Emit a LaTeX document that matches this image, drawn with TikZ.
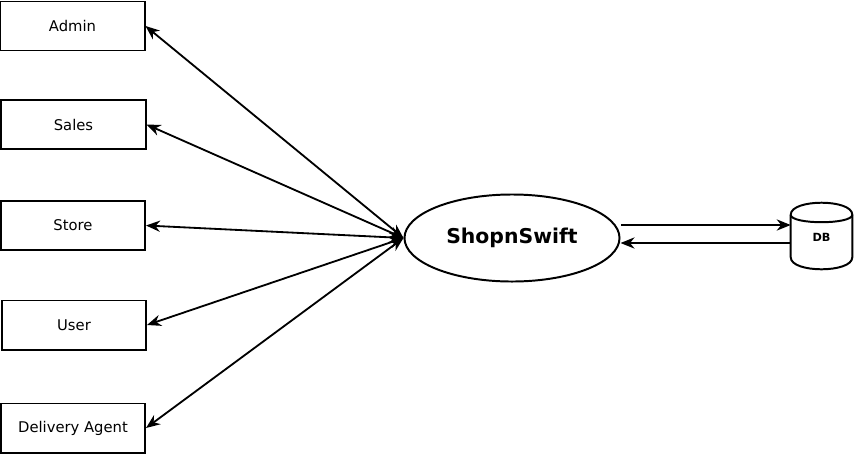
\documentclass[tikz,border=0pt]{standalone}
\usepackage{fontspec}
\setmainfont{DejaVu Sans}
\usepackage{tikz}
\usetikzlibrary{positioning,shapes.geometric,arrows.meta}

\begin{document}
\begin{tikzpicture}[
    x=0.025cm, y=-0.025cm,
    actor/.style={draw, line width=1.4pt, minimum width=3.6cm, minimum height=1.225cm, inner sep=0pt, font=\fontsize{10.5}{12}\selectfont},
    arrow/.style={<->, line width=1.3pt, >={Stealth[length=10pt,width=8pt]}},
    >=Stealth
]
\useasboundingbox (0,0) rectangle (854,456);

% Actors (left side)
\node[actor] (admin) at (72.5, 26) {Admin};
\node[actor] (sales) at (73.5, 124.5) {Sales};
\node[actor] (store) at (73, 225.5) {Store};
\node[actor] (user) at (74, 325) {User};
\node[actor] (agent) at (73, 428) {Delivery Agent};

% System
\node[draw, ellipse, line width=1.4pt, inner sep=0pt, minimum width=5.375cm, minimum height=2.175cm, font=\fontsize{14.5}{16}\selectfont\bfseries] (shop) at (512, 238) {ShopnSwift};

% Database (cylinder drawn round the node)
\node[inner sep=0pt, minimum width=1.525cm, minimum height=1.65cm, font=\fontsize{8}{9}\selectfont\bfseries] (db) at (821.5, 236) {\raisebox{-0.25cm}{DB}};
\draw[line width=1.4pt, line join=round]
    ([yshift=-0.3cm]db.north west) .. controls ([yshift=0.1cm]db.north west) and ([yshift=0.1cm]db.north east) .. ([yshift=-0.3cm]db.north east)
    -- ([yshift=0.3cm]db.south east) .. controls ([yshift=-0.1cm]db.south east) and ([yshift=-0.1cm]db.south west) .. ([yshift=0.3cm]db.south west)
    -- cycle;
\draw[line width=1.4pt]
    ([yshift=-0.3cm]db.north west) .. controls ([yshift=-0.55cm]db.north west) and ([yshift=-0.55cm]db.north east) .. ([yshift=-0.3cm]db.north east);

% Actors <-> system
\draw[arrow] (admin.east) -- (shop.west);
\draw[arrow] (sales.east) -- (shop.west);
\draw[arrow] (store.east) -- (shop.west);
\draw[arrow] (user.east) -- (shop.west);
\draw[arrow] (agent.east) -- (shop.west);

% System <-> DB
\draw[arrow, <-] ([yshift=0.325cm]shop.east -| db.west) -- ([yshift=0.325cm]shop.east);
\draw[arrow, ->] ([yshift=-0.125cm]shop.east -| db.west) -- ([yshift=-0.125cm]shop.east);

\end{tikzpicture}
\end{document}
